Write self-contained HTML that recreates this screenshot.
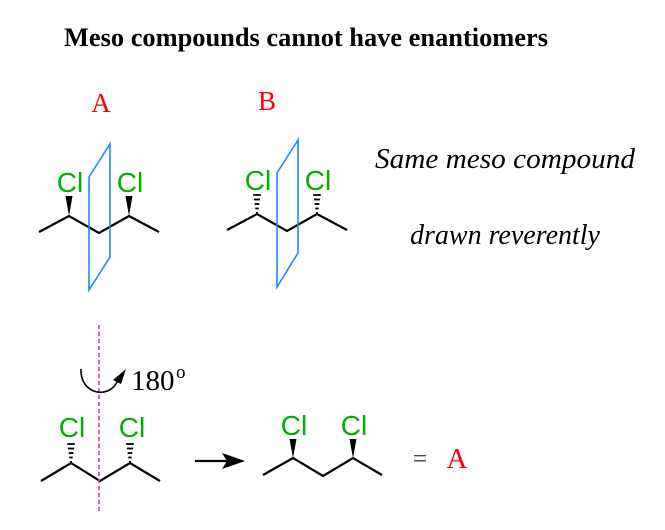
<!DOCTYPE html>
<html><head><meta charset="utf-8"><style>
html,body{margin:0;padding:0;background:#fff;}
svg{display:block}
</style></head><body>
<svg width="665" height="530" viewBox="0 0 665 530" xmlns="http://www.w3.org/2000/svg">
<defs>
<g id="hash">
<line x1="-1" y1="0" x2="1" y2="0"/>
<line x1="-1.7" y1="-4.5" x2="1.7" y2="-4.5"/>
<line x1="-2.4" y1="-9" x2="2.4" y2="-9"/>
<line x1="-3.1" y1="-13.5" x2="3.1" y2="-13.5"/>
<line x1="-3.8" y1="-18" x2="3.8" y2="-18"/>
</g>
</defs>
<text x="306" y="46" text-anchor="middle" font-family="Liberation Serif" font-weight="bold" font-size="26.4" textLength="484" lengthAdjust="spacingAndGlyphs">Meso compounds cannot have enantiomers</text>
<text x="101" y="112" text-anchor="middle" font-family="Liberation Serif" font-size="27" fill="#f00">A</text>
<text x="267" y="110" text-anchor="middle" font-family="Liberation Serif" font-size="27" fill="#f00">B</text>
<text x="505" y="168" text-anchor="middle" font-family="Liberation Serif" font-style="italic" font-size="28" textLength="260" lengthAdjust="spacingAndGlyphs">Same meso compound</text>
<text x="505" y="244" text-anchor="middle" font-family="Liberation Serif" font-style="italic" font-size="28">drawn reverently</text>

<g stroke="#000" stroke-width="2.2" fill="none" stroke-linejoin="miter">
<polyline points="39,232 69,216 99,233 129,216 159,232"/>
<polyline points="227,230 257,214 287,231 317,214 347,230"/>
<polyline points="41,481 71,463 100,481 130,463 160,481"/>
<polyline points="263,475 293,458 323,476 353,458 382,475"/>
<line x1="195" y1="461" x2="228" y2="461"/>
</g>
<g fill="#000">
<polygon points="69,216 65.5,196 72.5,196"/>
<polygon points="129,216 125.5,196 132.5,196"/>
<polygon points="293,458 289.5,439 296.5,439"/>
<polygon points="353,458 349.5,439 356.5,439"/>
<polygon points="245,461 222,453 227,461 222,469"/>
</g>
<g stroke="#000" stroke-width="1.8">
<use href="#hash" x="257" y="213"/>
<use href="#hash" x="317" y="213"/>
<use href="#hash" x="71" y="462"/>
<use href="#hash" x="130" y="462"/>
</g>
<g fill="#00b000" font-family="Liberation Sans" font-size="28" text-anchor="middle">
<text x="70" y="192">Cl</text>
<text x="130" y="192">Cl</text>
<text x="258" y="190">Cl</text>
<text x="318" y="190">Cl</text>
<text x="72" y="437">Cl</text>
<text x="132" y="437">Cl</text>
<text x="294" y="435">Cl</text>
<text x="354" y="435">Cl</text>
</g>
<g stroke="#1e88ff" stroke-width="1.6" fill="none">
<polygon points="89,177 110,144 110,257 89,290"/>
<polygon points="277,173 298,140 298,253 277,287"/>
</g>
<line x1="99" y1="325" x2="99" y2="512" stroke="#e0309a" stroke-width="1.6" stroke-dasharray="4,3"/>
<path d="M81,369 C80,395 110,400 118,380" stroke="#000" stroke-width="1.6" fill="none"/>
<polygon points="126,369 113,380 121,384" fill="#000"/>
<text x="131" y="390" font-family="Liberation Serif" font-size="29">180</text>
<text x="176" y="378" font-family="Liberation Serif" font-size="19">o</text>
<text x="420" y="467" text-anchor="middle" font-family="Liberation Serif" font-size="26" fill="#444">=</text>
<text x="457" y="468" text-anchor="middle" font-family="Liberation Serif" font-size="29" fill="#f00">A</text>
</svg>
</body></html>
